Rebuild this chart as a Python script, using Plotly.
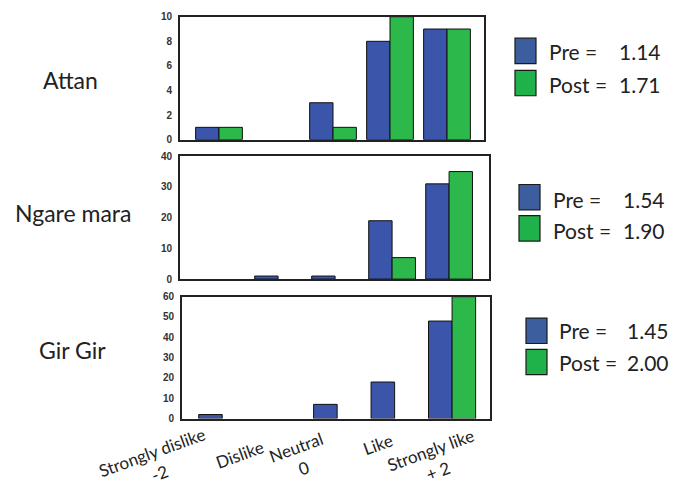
import plotly.graph_objects as go

W, H = 692, 488

categories = ["Strongly dislike -2", "Dislike", "Neutral 0", "Like", "Strongly like +2"]
cat_labels = ["Strongly dislike<br>-2", "Dislike", "Neutral<br>0", "Like", "Strongly like<br>+ 2"]

sites = ["Attan", "Ngare mara", "Gir Gir"]
attan_pre = [1, 0, 3, 8, 9]
attan_post = [1, 0, 1, 10, 9]
ngare_pre = [0, 1, 1, 19, 31]
ngare_post = [0, 0, 0, 7, 35]
gir_pre = [2, 0, 7, 18, 48]
gir_post = [0, 0, 0, 0, 60]

pre_means = ["1.14", "1.54", "1.45"]
post_means = ["1.71", "1.90", "2.00"]

y_max = [10, 40, 60]
y_dtick = [2, 10, 10]

BLUE = "#3A55A9"
GREEN = "#2DB84B"
LEG_BLUE = "#3D5E9E"
LEG_GREEN = "#1FB24A"

def px(x):
    return x / W

def py(y):
    return 1 - y / H

# panel frames in pixels: (left, top, right, bottom)
frames = [(180, 11, 484, 137), (180, 154, 489, 280), (182, 298, 490, 423)]
xranges = [[-0.684, 4.649], [-0.72, 4.70], [-0.70, 4.66]]

fig = go.Figure()
series = [(attan_pre, attan_post), (ngare_pre, ngare_post), (gir_pre, gir_post)]
for i, (pre, post) in enumerate(series):
    xa = "x" if i == 0 else f"x{i+1}"
    ya = "y" if i == 0 else f"y{i+1}"
    for vals, col, grp in ((pre, BLUE, "pre"), (post, GREEN, "post")):
        lw = [0 if v == 0 else 1 for v in vals]
        fig.add_trace(go.Bar(x=categories, y=vals,
                             marker=dict(color=col, line=dict(color="#111", width=lw)),
                             xaxis=xa, yaxis=ya, showlegend=False, offsetgroup=grp,
                             hoverinfo="skip"))

layout = dict(
    width=W, height=H, margin=dict(l=0, r=0, t=0, b=0),
    paper_bgcolor="white", plot_bgcolor="white",
    barmode="group", bargap=0.18, bargroupgap=0,
    font=dict(family="Lato", color="#222"),
)
for i, (l, t, r, b) in enumerate(frames):
    xk = "xaxis" if i == 0 else f"xaxis{i+1}"
    yk = "yaxis" if i == 0 else f"yaxis{i+1}"
    ya = "y" if i == 0 else f"y{i+1}"
    xa = "x" if i == 0 else f"x{i+1}"
    layout[xk] = dict(domain=[px(l), px(r)], anchor=ya, type="category",
                      categoryorder="array", categoryarray=categories,
                      range=xranges[i], showticklabels=False, ticks="",
                      showline=True, mirror=True, linecolor="#222", linewidth=1.8,
                      showgrid=False, zeroline=False, fixedrange=True)
    layout[yk] = dict(domain=[py(b), py(t)], anchor=xa, range=[0, y_max[i]], dtick=y_dtick[i],
                      showline=True, mirror=True, linecolor="#222", linewidth=1.8,
                      showgrid=False, zeroline=False, ticks="", ticklabelstandoff=4,
                      fixedrange=True,
                      tickfont=dict(family="Liberation Sans", size=10, color="#333", weight="bold"))
fig.update_layout(**layout)

annotations = []
# x category labels on bottom panel
label_shifts = [(-66, -44), (-40, -36), (-37, -39), (-17, -26), (-18, -42)]
for cat, lab, (dx, dy) in zip(categories, cat_labels, label_shifts):
    annotations.append(dict(x=cat, y=0, xref="x3", yref="y3", text=lab, showarrow=False,
                            textangle=-20, xanchor="center", yanchor="middle", align="center",
                            xshift=dx, yshift=dy, font=dict(family="Lato", size=17, color="#222")))

# site labels
site_pos = [(70, 76), (73, 212), (72, 353)]
for s, (x, y) in zip(sites, site_pos):
    annotations.append(dict(x=px(x), y=py(y), xref="paper", yref="paper", text=s, showarrow=False,
                            xanchor="center", yanchor="middle", font=dict(family="Lato", size=23, color="#222")))

# legend-style boxes with means
shapes = []
leg = [  # box_left, pre_box_top, post_box_top, text_x, value_x, pre_y, post_y
    (515, 33, 66, 547, 617, 47, 80),
    (519, 183, 215, 551, 621, 198, 230),
    (526, 320, 352, 557, 625, 333, 365),
]
for i, (bx, pt, qt, tx, vx, pyc, qyc) in enumerate(leg):
    for top, col in ((pt, LEG_BLUE), (qt, LEG_GREEN)):
        shapes.append(dict(type="rect", xref="paper", yref="paper",
                           x0=px(bx), x1=px(bx + 21), y0=py(top + 26), y1=py(top),
                           fillcolor=col, line=dict(color="#1a1a1a", width=1.2)))
    for lab, val, yc in (("Pre =", pre_means[i], pyc), ("Post =", post_means[i], qyc)):
        annotations.append(dict(x=px(tx), y=py(yc), xref="paper", yref="paper", text=lab,
                                showarrow=False, xanchor="left", yanchor="middle",
                                font=dict(family="Lato", size=21, color="#222")))
        annotations.append(dict(x=px(vx), y=py(yc), xref="paper", yref="paper", text=val,
                                showarrow=False, xanchor="left", yanchor="middle",
                                font=dict(family="Lato", size=21, color="#222")))

fig.update_layout(annotations=annotations, shapes=shapes)
fig.write_html("out.html", config={"displayModeBar": False},
               post_script="document.body.style.margin='0';document.body.style.overflow='hidden';")
